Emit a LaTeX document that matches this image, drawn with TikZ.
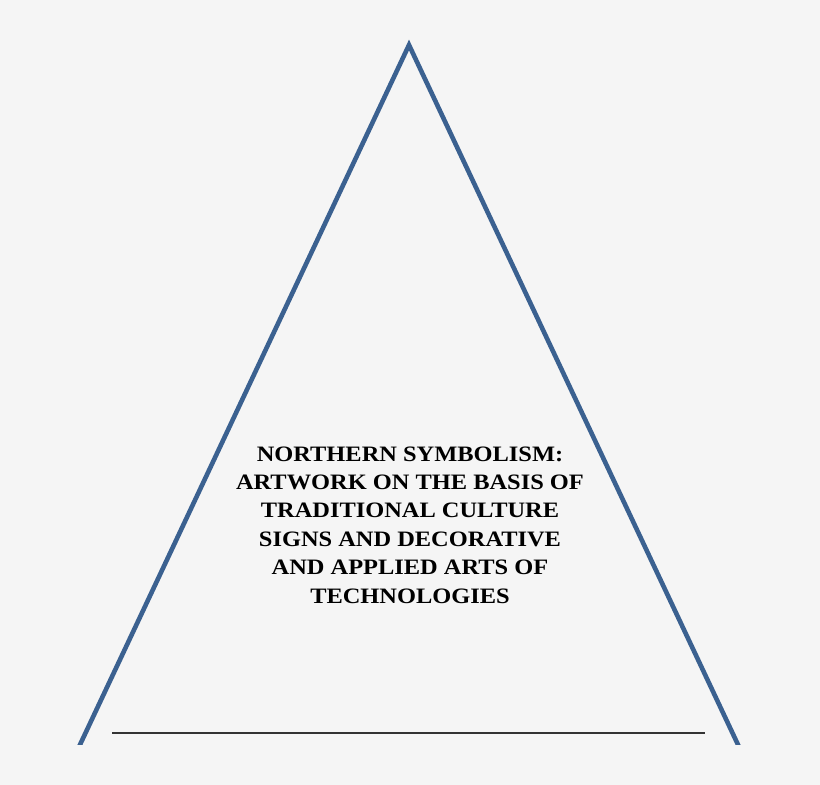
\documentclass[tikz,border=0pt]{standalone}
\usepackage{fontspec}
\setmainfont{Liberation Serif}
\newfontfamily\titlefont[FakeStretch=1.11]{Liberation Serif}
\definecolor{trblue}{HTML}{3B6190}
\definecolor{bggray}{HTML}{F5F5F5}
\definecolor{basegray}{HTML}{333333}
\begin{document}
\begin{tikzpicture}[x=1pt,y=1pt, line cap=butt, >=stealth]
	\fill[bggray] (0,0) rectangle (820,785);
	\useasboundingbox (0,0) rectangle (820,785);
	% triangle, cut off above the lower margin
	\begin{scope}
		\clip (0,40) rectangle (820,785);
		\coordinate (apex) at (409,740);
		\coordinate (left) at (54,-15);
		\coordinate (right) at (764,-15);
		\draw[trblue, line width=4.6pt, line join=miter] (left)--(apex)--(right);
	\end{scope}
	% base line
	\coordinate (baseL) at (112,52);
	\coordinate (baseR) at (705,52);
	\draw[basegray, line width=1.8pt] (baseL)--(baseR);
	\node[align=center, font=\titlefont\fontsize{22}{28.4}\selectfont\bfseries, inner sep=0pt] (title) at (410,260)
		{NORTHERN SYMBOLISM:\\ARTWORK ON THE BASIS OF\\TRADITIONAL CULTURE\\SIGNS AND DECORATIVE\\AND APPLIED ARTS OF\\TECHNOLOGIES};
\end{tikzpicture}
\end{document}
